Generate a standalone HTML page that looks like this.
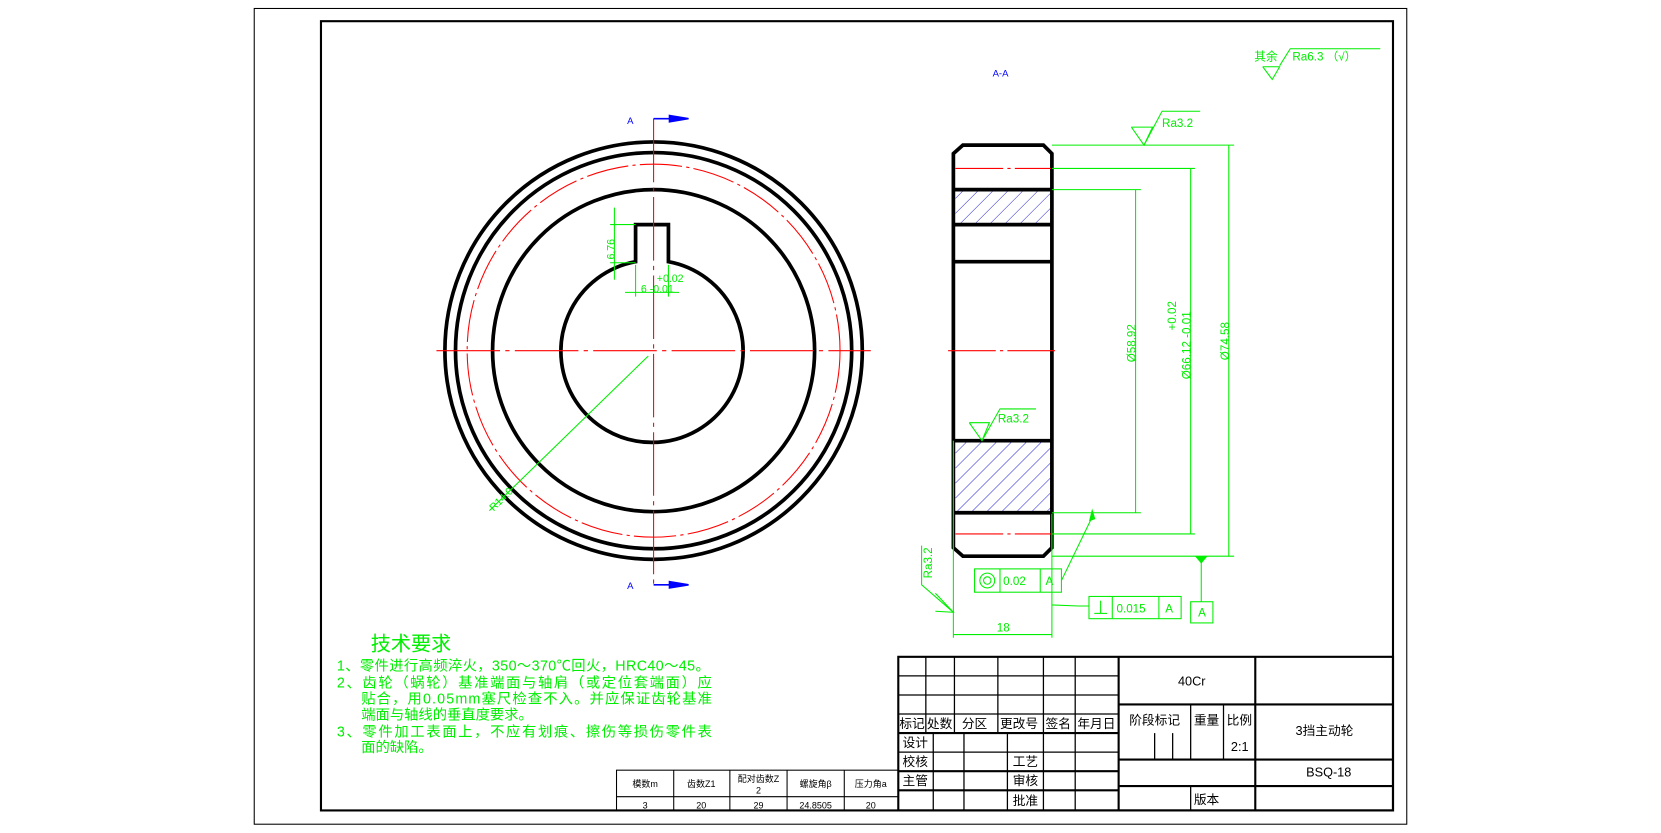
<!DOCTYPE html>
<html><head><meta charset="utf-8"><style>
html,body{margin:0;padding:0;background:#fff;}
svg{display:block;}
text{font-family:"Liberation Sans","Noto Sans CJK SC",sans-serif;}
</style></head><body>
<svg width="1661" height="833" viewBox="0 0 1568 786.3" preserveAspectRatio="none" xmlns="http://www.w3.org/2000/svg">
<defs>
<pattern id="h" width="10" height="10" patternUnits="userSpaceOnUse" patternTransform="rotate(45)">
<line x1="0" y1="0" x2="0" y2="10" stroke="#0000cc" stroke-width="0.8"/>
</pattern>
</defs>
<rect width="1568" height="786.3" fill="#fff"/>
<rect x="240" y="8" width="1088" height="770" fill="none" stroke="#000" stroke-width="1"/>
<rect x="303" y="20" width="1012" height="745" fill="none" stroke="#000" stroke-width="2"/>

<g fill="none" stroke="#000" stroke-width="3.5">
<circle cx="617" cy="331" r="197"/>
<circle cx="617" cy="331" r="187"/>
<circle cx="617" cy="331" r="152"/>
<path d="M600,247 L600,212 L631,212 L631,247 A86,86 0 1 1 600,247 Z"/>
</g>
<circle cx="617" cy="331" r="176" fill="none" stroke="#f00" stroke-width="1" stroke-dasharray="40 4 3 4"/>
<line x1="412" y1="331" x2="822" y2="331" stroke="#f00" stroke-width="1" stroke-dasharray="60 5 4 5"/>
<line x1="617" y1="112" x2="617" y2="552" stroke="#f00" stroke-width="1" stroke-dasharray="60 5 4 5"/>
<g stroke="#0000ff" stroke-width="1.5" fill="#0000ff">
<line x1="617" y1="112" x2="640" y2="112"/><polygon points="632,109 650,112 632,115"/>
<line x1="617" y1="552" x2="640" y2="552"/><polygon points="632,549 650,552 632,555"/>
</g>
<g fill="#0000ff" font-size="9"><text x="592" y="117">A</text><text x="592" y="556">A</text><text x="937" y="72">A-A</text></g>

<g stroke="#00ee00" stroke-width="1" fill="none">
<line x1="612" y1="336" x2="462" y2="482"/>
<line x1="580" y1="196" x2="580" y2="264"/>
<line x1="576" y1="212" x2="600" y2="212"/>
<line x1="576" y1="248" x2="600" y2="248"/>
<line x1="600" y1="250" x2="600" y2="280"/>
<line x1="631" y1="250" x2="631" y2="280"/>
<line x1="590" y1="276" x2="641" y2="276"/>
</g>
<g fill="#00ee00" font-size="10">
<text transform="translate(580,245) rotate(-90)">6.76</text>
<text x="620" y="266">+0.02</text>
<text x="605" y="276">6 -0.01</text>
<text transform="translate(466,483) rotate(-45)">R14.0</text>
</g>

<rect x="902" y="179" width="90" height="33" fill="url(#h)"/>
<rect x="902" y="416" width="90" height="68" fill="url(#h)"/>
<g stroke="#000" stroke-width="3.5" fill="none">
<path d="M909,137 L985,137 L993,145 L993,517 L985,525 L909,525 L900,517 L900,145 Z"/>
<line x1="900" y1="179" x2="993" y2="179"/>
<line x1="900" y1="212" x2="993" y2="212"/>
<line x1="900" y1="247" x2="993" y2="247"/>
<line x1="900" y1="416" x2="993" y2="416"/>
<line x1="900" y1="484" x2="993" y2="484"/>
</g>
<g stroke="#f00" stroke-width="1" stroke-dasharray="45 4 3 4">
<line x1="902" y1="159" x2="992" y2="159"/>
<line x1="902" y1="504" x2="992" y2="504"/>
<line x1="895" y1="331" x2="998" y2="331"/>
</g>

<g stroke="#00ee00" stroke-width="1" fill="none">
<line x1="993" y1="137" x2="1165" y2="137"/>
<line x1="993" y1="525" x2="1165" y2="525"/>
<line x1="1160" y1="137" x2="1160" y2="525"/>
<line x1="993" y1="159" x2="1128" y2="159"/>
<line x1="993" y1="504" x2="1128" y2="504"/>
<line x1="1124" y1="159" x2="1124" y2="504"/>
<line x1="993" y1="179" x2="1077" y2="179"/>
<line x1="993" y1="484" x2="1077" y2="484"/>
<line x1="1072" y1="179" x2="1072" y2="484"/>
<polyline points="1068,120 1080,137 1088,120 1068,120"/>
<polyline points="1080,137 1097,105 1133,105"/>
<polyline points="915,399 927,416 934,399 915,399"/>
<polyline points="927,416 944,386 978,386"/>
<polyline points="870,515 870,552 900,578"/>
<polyline points="883,560 900,578 883,577"/>
<rect x="920" y="537" width="82" height="22"/>
<line x1="944" y1="537" x2="944" y2="559"/><line x1="982" y1="537" x2="982" y2="559"/>
<circle cx="932" cy="548" r="7"/><circle cx="932" cy="548" r="3.5"/>
<line x1="1002" y1="548" x2="1032" y2="486"/>
<rect x="1028" y="563" width="87" height="21"/>
<line x1="1050" y1="563" x2="1050" y2="584"/><line x1="1094" y1="563" x2="1094" y2="584"/>
<line x1="1039" y1="567" x2="1039" y2="579"/><line x1="1033" y1="579" x2="1045" y2="579"/>
<polyline points="993,571 1018,572 1028,572"/>
<rect x="1124" y="568" width="21" height="20"/>
<line x1="1134" y1="525" x2="1134" y2="568"/>
<line x1="900" y1="416" x2="900" y2="602"/>
<line x1="993" y1="485" x2="993" y2="602"/>
<line x1="900" y1="599" x2="993" y2="599"/>
<polyline points="1192,63 1201,75 1208,63 1192,63"/>
<polyline points="1208,62 1218,46 1303,46"/>
</g>
<g fill="#00ee00">
<polygon points="1128,525 1140,525 1134,532"/>
<polygon points="1031,480 1028,492 1034,490"/>
</g>
<g fill="#00ee00" font-size="11">
<text x="1097" y="120">Ra3.2</text>
<text x="942" y="399">Ra3.2</text>
<text transform="translate(880,546) rotate(-90)">Ra3.2</text>
<text transform="translate(1072,342) rotate(-90)">Ø58.92</text>
<text transform="translate(1124,358) rotate(-90)">Ø66.12 -0.01</text>
<text transform="translate(1110,312) rotate(-90)">+0.02</text>
<text transform="translate(1160,340) rotate(-90)">Ø74.58</text>
<text x="947" y="552">0.02</text>
<text x="987" y="552">A</text>
<text x="1054" y="578">0.015</text>
<text x="1100" y="578">A</text>
<text x="1131" y="582">A</text>
<text x="941" y="596">18</text>
<text x="1184" y="57">其余</text>
<text x="1220" y="57">Ra6.3  （√）</text>
</g>

<g fill="#00ee00">
<text x="350" y="614" font-size="19">技术要求</text>
<g font-size="13.5">
<text x="318" y="633" textLength="352">1、零件进行高频淬火，350～370℃回火，HRC40～45。</text>
<text x="318" y="649" textLength="354">2、齿轮（蜗轮）基准端面与轴肩（或定位套端面）应</text>
<text x="341" y="664" textLength="331">贴合，用0.05mm塞尺检查不入。并应保证齿轮基准</text>
<text x="341" y="679">端面与轴线的垂直度要求。</text>
<text x="318" y="695" textLength="354">3、零件加工表面上，不应有划痕、擦伤等损伤零件表</text>
<text x="341" y="710">面的缺陷。</text>
</g></g>

<g stroke="#000" fill="none" stroke-width="1">
<rect x="582" y="727" width="266" height="38"/>
<line x1="582" y1="752" x2="848" y2="752"/>
<line x1="636" y1="727" x2="636" y2="765"/>
<line x1="689" y1="727" x2="689" y2="765"/>
<line x1="743" y1="727" x2="743" y2="765"/>
<line x1="797" y1="727" x2="797" y2="765"/>
</g>
<g font-size="8.5" text-anchor="middle" fill="#000">
<text x="609" y="743">模数m</text><text x="662" y="743">齿数Z1</text>
<text x="716" y="738">配对齿数Z</text><text x="716" y="749">2</text>
<text x="770" y="743">螺旋角β</text><text x="822" y="743">压力角a</text>
<text x="609" y="763">3</text><text x="662" y="763">20</text><text x="716" y="763">29</text>
<text x="770" y="763">24.8505</text><text x="822" y="763">20</text>
</g>

<g stroke="#000" fill="none" stroke-width="1.2">
<rect x="848" y="620" width="467" height="145" stroke-width="2"/>
<line x1="848" y1="638" x2="1056" y2="638"/>
<line x1="848" y1="656" x2="1056" y2="656"/>
<line x1="848" y1="674" x2="1056" y2="674"/>
<line x1="848" y1="692" x2="1056" y2="692" stroke-width="2"/>
<line x1="848" y1="710" x2="1056" y2="710"/>
<line x1="848" y1="728" x2="1056" y2="728" stroke-width="2"/>
<line x1="848" y1="746" x2="1056" y2="746" stroke-width="2"/>
<line x1="874" y1="620" x2="874" y2="692"/>
<line x1="901" y1="620" x2="901" y2="692"/>
<line x1="942" y1="620" x2="942" y2="692"/>
<line x1="985" y1="620" x2="985" y2="765"/>
<line x1="1015" y1="620" x2="1015" y2="765"/>
<line x1="881" y1="692" x2="881" y2="765"/>
<line x1="910" y1="692" x2="910" y2="765"/>
<line x1="951" y1="692" x2="951" y2="765"/>
<line x1="1056" y1="620" x2="1056" y2="765" stroke-width="2"/>
<line x1="1185" y1="620" x2="1185" y2="765" stroke-width="2"/>
<line x1="1056" y1="665" x2="1315" y2="665" stroke-width="2"/>
<line x1="1056" y1="717" x2="1315" y2="717" stroke-width="2"/>
<line x1="1056" y1="742" x2="1315" y2="742" stroke-width="2"/>
<line x1="1124" y1="665" x2="1124" y2="717"/>
<line x1="1155" y1="665" x2="1155" y2="717"/>
<line x1="1090" y1="692" x2="1090" y2="717"/>
<line x1="1107" y1="692" x2="1107" y2="717"/>
<line x1="1124" y1="742" x2="1124" y2="765"/>
</g>
<g font-size="12" fill="#000">
<text x="849" y="687">标记</text><text x="875" y="687">处数</text><text x="908" y="687">分区</text>
<text x="944" y="687">更改号</text><text x="987" y="687">签名</text><text x="1017" y="687">年月日</text>
<text x="852" y="705">设计</text><text x="852" y="723">校核</text><text x="852" y="741">主管</text>
<text x="956" y="723">工艺</text><text x="956" y="741">审核</text><text x="956" y="760">批准</text>
<text x="1066" y="684">阶段标记</text><text x="1127" y="684">重量</text><text x="1158" y="684">比例</text>
<text x="1162" y="709">2:1</text>
<text x="1112" y="647">40Cr</text>
<text x="1223" y="694">3挡主动轮</text>
<text x="1233" y="733">BSQ-18</text>
<text x="1127" y="759">版本</text>
</g>
</svg>
</body></html>
